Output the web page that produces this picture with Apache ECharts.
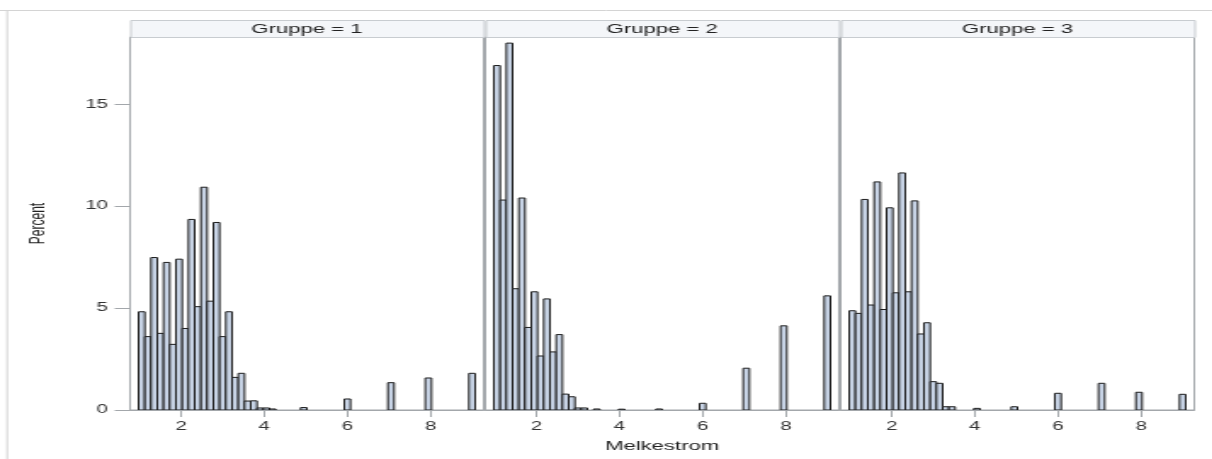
<!DOCTYPE html>
<html>
<head>
<meta charset="utf-8">
<script src="https://cdn.jsdelivr.net/npm/echarts@6/dist/echarts.min.js"></script>
<style>
  html, body { margin: 0; padding: 0; background: #ffffff; overflow: hidden; }
  #main { width: 713px; height: 459px; transform: scaleX(1.7); transform-origin: 0 0; }
</style>
</head>
<body>
<div id="main"></div>
<script>
// ---- data ----
var panelTitles = ['Gruppe = 1', 'Gruppe = 2', 'Gruppe = 3'];
var xAxisTitle = 'Melkestrom';
var yAxisTitle = 'Percent';
var xTickValues = [2, 4, 6, 8];
var yTickValues = [0, 5, 10, 15];
var BIN_WIDTH = 0.15;
var binMidpoints = [1.05, 1.2, 1.35, 1.5, 1.65, 1.8, 1.95, 2.1, 2.25, 2.4, 2.55, 2.7, 2.85, 3.0,
                    3.15, 3.3, 3.45, 3.6, 3.75, 3.9, 4.05, 4.2, 4.95, 6.0, 7.05, 7.95, 9.0];
var percentGroup1 = [4.82, 3.6, 7.48, 3.76, 7.24, 3.22, 7.4, 4.0, 9.35, 5.07, 10.93, 5.34, 9.2, 3.6,
                     4.82, 1.6, 1.8, 0.44, 0.45, 0.1, 0.1, 0.05, 0.12, 0.54, 1.34, 1.57, 1.8];
var percentGroup2 = [16.9, 10.3, 18.0, 5.95, 10.4, 4.05, 5.8, 2.65, 5.45, 2.85, 3.7, 0.78, 0.65, 0.1,
                     0.1, 0, 0.05, 0, 0, 0, 0.04, 0, 0.05, 0.33, 2.05, 4.13, 5.6];
var percentGroup3 = [4.87, 4.74, 10.33, 5.15, 11.19, 4.93, 9.92, 5.75, 11.63, 5.8, 10.26, 3.73, 4.28, 1.39,
                     1.31, 0.16, 0.16, 0, 0, 0, 0.08, 0, 0.16, 0.82, 1.31, 0.87, 0.77];
var groups = [percentGroup1, percentGroup2, percentGroup3];

// ---- layout (in chart units; the page is stretched horizontally) ----
var gridLefts = [76.5, 285.5, 494.5];
var gridWidth = 208;
var gridTop = 37, gridBottomY = 410;
var FONT = 'Liberation Sans, Arial, sans-serif';

var chart = echarts.init(document.getElementById('main'), null, { renderer: 'canvas' });

var grids = [], xAxes = [], yAxes = [], series = [], graphics = [];
groups.forEach(function (vals, gi) {
  grids.push({
    left: gridLefts[gi], top: gridTop, width: gridWidth, height: gridBottomY - gridTop,
    show: true, borderColor: '#a3a7ab', borderWidth: 1, backgroundColor: '#ffffff'
  });
  xAxes.push({
    type: 'value', gridIndex: gi, min: 0.77, max: 9.28,
    name: gi === 1 ? xAxisTitle : '',
    nameLocation: 'middle', nameGap: 30,
    nameTextStyle: { fontFamily: FONT, fontSize: 13, color: '#222' },
    axisLine: { show: true, lineStyle: { color: '#a3a7ab', width: 1 } },
    axisTick: { show: true, length: 7, customValues: xTickValues, lineStyle: { color: '#a3a7ab', width: 1 } },
    axisLabel: { show: true, customValues: xTickValues, margin: 11, fontFamily: FONT, fontSize: 12, color: '#333' },
    splitLine: { show: false }
  });
  yAxes.push({
    type: 'value', gridIndex: gi, min: 0, max: 18.3,
    name: gi === 0 ? yAxisTitle : '',
    nameLocation: 'middle', nameGap: 48, nameRotate: 90,
    nameTextStyle: { fontFamily: FONT, fontSize: 12, color: '#222' },
    axisLine: { show: false },
    axisTick: { show: gi === 0, length: 9, customValues: yTickValues, lineStyle: { color: '#a3a7ab', width: 1 } },
    axisLabel: { show: gi === 0, customValues: yTickValues, margin: 13, fontFamily: FONT, fontSize: 12, color: '#333' },
    splitLine: { show: false }
  });
  var data = binMidpoints.map(function (m, i) { return [m, vals[i]]; });
  series.push({
    type: 'custom', xAxisIndex: gi, yAxisIndex: gi, data: data, clip: true,
    renderItem: function (params, api) {
      var c = api.value(0), v = api.value(1);
      if (!(v > 0)) return null;
      var p0 = api.coord([c - BIN_WIDTH / 2, v]);
      var p1 = api.coord([c + BIN_WIDTH / 2, 0]);
      return {
        type: 'rect',
        shape: { x: p0[0], y: p0[1], width: p1[0] - p0[0], height: p1[1] - p0[1] },
        style: { fill: '#c7d3e5', stroke: '#1c1c1c', lineWidth: 1 }
      };
    }
  });
  graphics.push({
    type: 'rect', left: gridLefts[gi], top: 20,
    shape: { width: gridWidth, height: 17 },
    style: { fill: '#f4f6f9', stroke: '#c8ccd0', lineWidth: 1 }, z: 10
  });
  graphics.push({
    type: 'text', x: gridLefts[gi] + gridWidth / 2, y: 29,
    style: { text: panelTitles[gi], fontFamily: FONT, fontSize: 13, fill: '#222', align: 'center', verticalAlign: 'middle' },
    z: 11
  });
});
graphics.push({ type: 'line', shape: { x1: 0, y1: 10.5, x2: 713, y2: 10.5 }, style: { stroke: '#d4d4d4', lineWidth: 1 } });
graphics.push({ type: 'line', shape: { x1: 4.2, y1: 10.5, x2: 4.2, y2: 459 }, style: { stroke: '#d4d4d4', lineWidth: 1 } });

chart.setOption({
  animation: false,
  backgroundColor: '#ffffff',
  grid: grids,
  xAxis: xAxes,
  yAxis: yAxes,
  series: series,
  graphic: graphics
});
</script>
</body>
</html>
